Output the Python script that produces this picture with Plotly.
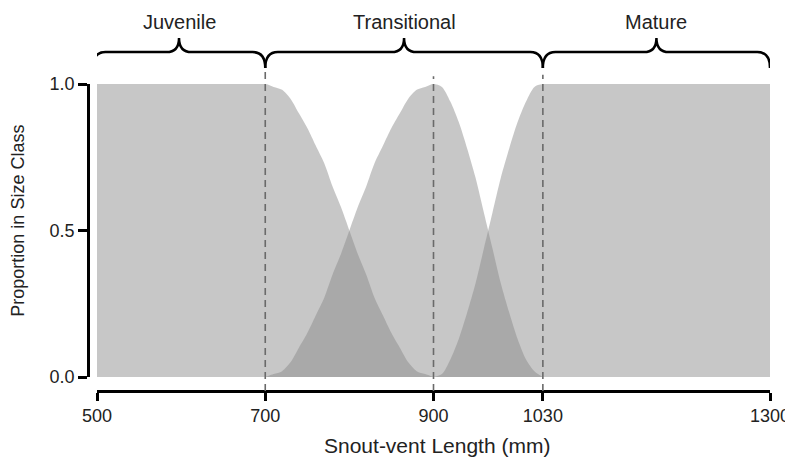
import plotly.graph_objects as go

# size classes
class_names = ["Juvenile", "Transitional", "Mature"]
class_starts = [500, 700, 1030]
class_ends = [700, 1030, 1300]
boundaries = [700, 900, 1030]

# proportion curves
juv_x = [500, 700, 710, 720, 730, 740, 750, 760, 770, 780, 790, 800,
         810, 820, 830, 840, 850, 860, 870, 880, 890, 900]
juv_y = [1.0, 1.0, 0.99, 0.98, 0.95, 0.90, 0.85, 0.79, 0.73, 0.65, 0.58, 0.50,
         0.42, 0.35, 0.27, 0.21, 0.15, 0.10, 0.05, 0.02, 0.01, 0.0]

tra_x = [700, 710, 720, 730, 740, 750, 760, 770, 780, 790, 800,
         810, 820, 830, 840, 850, 860, 870, 880, 890, 900,
         910, 920, 930, 940, 950, 960, 970, 980, 990, 1000, 1010, 1020, 1030]
tra_y = [0.0, 0.01, 0.02, 0.05, 0.10, 0.15, 0.21, 0.27, 0.35, 0.42, 0.50,
         0.58, 0.65, 0.73, 0.79, 0.85, 0.90, 0.95, 0.98, 0.99, 1.0,
         0.99, 0.94, 0.87, 0.78, 0.68, 0.56, 0.44, 0.32, 0.22, 0.13, 0.06, 0.02, 0.0]

mat_x = [900, 910, 920, 930, 940, 950, 960, 970, 980, 990, 1000, 1010, 1020, 1030, 1300]
mat_y = [0.0, 0.01, 0.06, 0.13, 0.22, 0.32, 0.44, 0.56, 0.68, 0.78, 0.87, 0.94, 0.99, 1.0, 1.0]

x_ticks = [500, 700, 900, 1030, 1300]
y_ticks = [0.0, 0.5, 1.0]

FONT = "Liberation Sans, Arial, sans-serif"
FILL = "rgba(135,135,135,0.47)"


def brace(x0, x1, yb=1.052, ym=1.104, yt=1.150, r=15):
    xm = (x0 + x1) / 2
    return (f"M {x0},{yb} Q {x0},{ym} {x0 + r},{ym} L {xm - r},{ym} "
            f"Q {xm},{ym} {xm},{yt} Q {xm},{ym} {xm + r},{ym} "
            f"L {x1 - r},{ym} Q {x1},{ym} {x1},{yb}")


fig = go.Figure()
for xs, ys in [(juv_x, juv_y), (tra_x, tra_y), (mat_x, mat_y)]:
    fig.add_trace(go.Scatter(
        x=xs, y=ys, mode="lines", fill="tozeroy", fillcolor=FILL,
        line=dict(width=0, shape="spline", smoothing=0.8),
        hoverinfo="skip", showlegend=False,
    ))

shapes = []
# dashed class boundaries
tops = [1.055, 1.025, 1.03]
for b, top in zip(boundaries, tops):
    shapes.append(dict(type="line", xref="x", yref="paper", x0=b, x1=b, y0=0, y1=top,
                       line=dict(color="#6a6a6a", width=1.6, dash="7px,5px")))

# braces + labels
annotations = []
for name, s, e in zip(class_names, class_starts, class_ends):
    x0 = s - 5 if s == 500 else s
    shapes.append(dict(type="path", xref="x", yref="paper", path=brace(x0, e),
                       line=dict(color="black", width=2.5)))
    annotations.append(dict(x=(x0 + e) / 2, y=1.203, xref="x", yref="paper",
                            yanchor="middle", text=name, showarrow=False,
                            font=dict(size=20, color="#222", family=FONT)))

# axis titles
annotations.append(dict(x=0.512, y=-0.176, xref="paper", yref="paper", yanchor="middle",
                        text="Snout-vent Length (mm)", showarrow=False,
                        font=dict(size=21, color="#222", family=FONT)))
annotations.append(dict(x=-0.103, y=0.554, xref="paper", yref="paper",
                        xanchor="center", yanchor="middle",
                        text="Proportion in Size Class", showarrow=False, textangle=-90,
                        font=dict(size=18, color="#222", family=FONT)))

# page has an 8px body margin, so the figure is 8px smaller each way
fig.update_layout(
    width=785, height=451,
    margin=dict(l=80, r=23, t=76, b=68, autoexpand=False),
    plot_bgcolor="white", paper_bgcolor="white",
    font=dict(family=FONT, size=18, color="#222"),
    shapes=shapes, annotations=annotations,
    xaxis=dict(range=[500, 1300], domain=[0.0132, 1], anchor="free", position=0,
               tickvals=x_ticks, ticktext=[str(t) for t in x_ticks],
               showgrid=False, zeroline=False, showline=True, linecolor="black",
               linewidth=2.5, ticks="outside", ticklen=8, tickwidth=2.5,
               tickcolor="black", tickfont=dict(size=18), automargin=False),
    yaxis=dict(range=[0, 1], domain=[0.0456, 1], anchor="free", position=0,
               tickvals=y_ticks, ticktext=["0.0", "0.5", "1.0"],
               showgrid=False, zeroline=False, showline=True, linecolor="black",
               linewidth=2.5, ticks="outside", ticklen=9, tickwidth=2.5,
               tickcolor="black", tickfont=dict(size=18), automargin=False),
)

fig.write_html("out.html")
